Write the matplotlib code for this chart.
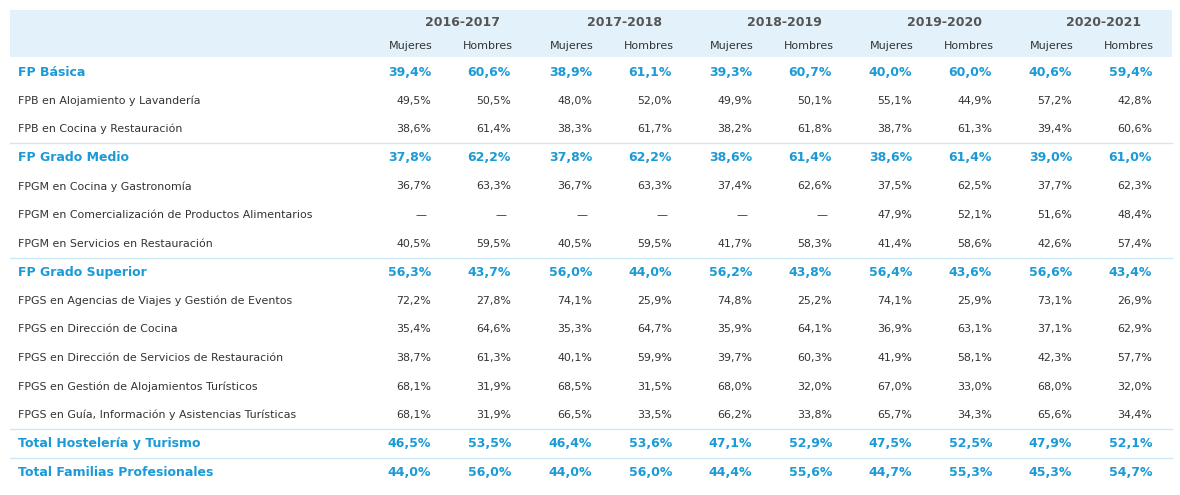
import matplotlib.pyplot as plt
from matplotlib.patches import Rectangle

years = ["2016-2017", "2017-2018", "2018-2019", "2019-2020", "2020-2021"]
rows = [
    ("FP Básica", True, ["39,4%", "60,6%", "38,9%", "61,1%", "39,3%", "60,7%", "40,0%", "60,0%", "40,6%", "59,4%"]),
    ("FPB en Alojamiento y Lavandería", False, ["49,5%", "50,5%", "48,0%", "52,0%", "49,9%", "50,1%", "55,1%", "44,9%", "57,2%", "42,8%"]),
    ("FPB en Cocina y Restauración", False, ["38,6%", "61,4%", "38,3%", "61,7%", "38,2%", "61,8%", "38,7%", "61,3%", "39,4%", "60,6%"]),
    ("FP Grado Medio", True, ["37,8%", "62,2%", "37,8%", "62,2%", "38,6%", "61,4%", "38,6%", "61,4%", "39,0%", "61,0%"]),
    ("FPGM en Cocina y Gastronomía", False, ["36,7%", "63,3%", "36,7%", "63,3%", "37,4%", "62,6%", "37,5%", "62,5%", "37,7%", "62,3%"]),
    ("FPGM en Comercialización de Productos Alimentarios", False, ["—", "—", "—", "—", "—", "—", "47,9%", "52,1%", "51,6%", "48,4%"]),
    ("FPGM en Servicios en Restauración", False, ["40,5%", "59,5%", "40,5%", "59,5%", "41,7%", "58,3%", "41,4%", "58,6%", "42,6%", "57,4%"]),
    ("FP Grado Superior", True, ["56,3%", "43,7%", "56,0%", "44,0%", "56,2%", "43,8%", "56,4%", "43,6%", "56,6%", "43,4%"]),
    ("FPGS en Agencias de Viajes y Gestión de Eventos", False, ["72,2%", "27,8%", "74,1%", "25,9%", "74,8%", "25,2%", "74,1%", "25,9%", "73,1%", "26,9%"]),
    ("FPGS en Dirección de Cocina", False, ["35,4%", "64,6%", "35,3%", "64,7%", "35,9%", "64,1%", "36,9%", "63,1%", "37,1%", "62,9%"]),
    ("FPGS en Dirección de Servicios de Restauración", False, ["38,7%", "61,3%", "40,1%", "59,9%", "39,7%", "60,3%", "41,9%", "58,1%", "42,3%", "57,7%"]),
    ("FPGS en Gestión de Alojamientos Turísticos", False, ["68,1%", "31,9%", "68,5%", "31,5%", "68,0%", "32,0%", "67,0%", "33,0%", "68,0%", "32,0%"]),
    ("FPGS en Guía, Información y Asistencias Turísticas", False, ["68,1%", "31,9%", "66,5%", "33,5%", "66,2%", "33,8%", "65,7%", "34,3%", "65,6%", "34,4%"]),
    ("Total Hostelería y Turismo", True, ["46,5%", "53,5%", "46,4%", "53,6%", "47,1%", "52,9%", "47,5%", "52,5%", "47,9%", "52,1%"]),
    ("Total Familias Profesionales", True, ["44,0%", "56,0%", "44,0%", "56,0%", "44,4%", "55,6%", "44,7%", "55,3%", "45,3%", "54,7%"]),
]
sub = ["Mujeres", "Hombres"]

plt.rcParams['font.family'] = ['DejaVu Sans']
blue = "#1a9ad6"
grey = "#333333"

fig = plt.figure(figsize=(11.8, 4.95), dpi=100)
ax = fig.add_axes([0, 0, 1, 1])
ax.set_xlim(0, 1180)
ax.set_ylim(495, 0)
ax.axis("off")

ax.add_patch(Rectangle((10, 10), 1162, 47, color="#e3f2fa", lw=0))
right_edges = [431, 511, 592, 672, 752, 832, 912, 992, 1072, 1152]
for i, y in enumerate(years):
    ax.text((right_edges[2*i] + right_edges[2*i+1]) / 2 - 8, 22, y, ha="center", va="center",
            fontsize=9, fontweight="bold", color="#555555")
for j, x in enumerate(right_edges):
    ax.text(x + 2, 46, sub[j % 2], ha="right", va="center", fontsize=8, color=grey)

y0, dy = 72, 28.6
for r, (label, bold, vals) in enumerate(rows):
    y = y0 + r * dy
    if bold and r > 0:
        ax.plot([10, 1172], [y - 14.5, y - 14.5], color="#cde8f5", lw=1)
    c = blue if bold else grey
    fw = "bold" if bold else "normal"
    fs = 9 if bold else 7.9
    ax.text(18, y, label, ha="left", va="center", fontsize=fs, fontweight=fw, color=c)
    for x, v in zip(right_edges, vals):
        if v == "—":
            ax.text(x - 10, y, v, ha="center", va="center", fontsize=fs, color=c)
        else:
            ax.text(x, y, v, ha="right", va="center", fontsize=fs, fontweight=fw, color=c)

fig.savefig("out.png", dpi=100)
